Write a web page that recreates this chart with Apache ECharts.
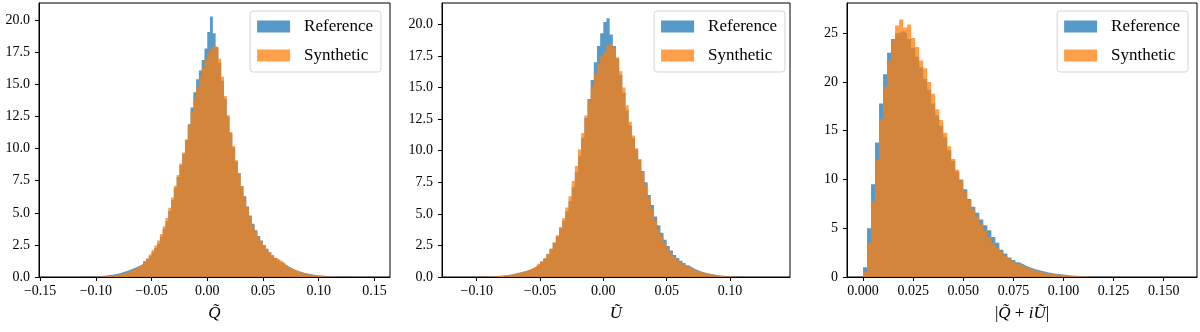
<!DOCTYPE html>
<html>
<head>
<meta charset="utf-8">
<script src="https://cdn.jsdelivr.net/npm/echarts@6/dist/echarts.min.js"></script>
<style>
  html, body { margin: 0; padding: 0; background: #fff; }
  #chart { width: 1200px; height: 332px; }
</style>
</head>
<body>
<div id="chart"></div>
<script>
// histogram bins (left edges start + i * width)
const quBinStart = -0.11
const quBinWidth = 0.0025
const pBinStart = 0
const pBinWidth = 0.002

// Q~ densities
const qRef = [0.01,0.02,0.03,0.04,0.06,0.07,0.10,0.12,0.16,0.18, 0.22,0.26,0.32,0.38,0.44,0.52,0.62,0.70,0.80,0.90,
  1.02,1.22,1.42,1.66,1.95,2.25,2.62,3.15,3.75,4.35, 5.15,6.0,6.95,7.8,8.7,9.6,10.7,11.9,13.2,14.4,
  15.4,16.1,16.9,17.8,19.1,20.3,19.0,17.9,16.7,15.3, 13.9,12.5,11.2,10.1,9.0,8.1,7.1,6.3,5.5,4.8,
  4.15,3.65,3.2,2.85,2.5,2.2,1.92,1.7,1.48,1.32, 1.15,1.0,0.85,0.72,0.62,0.52,0.44,0.38,0.32,0.27,
  0.23,0.19,0.16,0.13,0.11,0.09,0.07,0.05,0.04,0.03, 0.02,0.02,0.01,0.01,0,0]
const qSyn = [0,0.01,0.01,0.02,0.03,0.04,0.06,0.08,0.10,0.12, 0.15,0.18,0.22,0.27,0.33,0.40,0.50,0.60,0.72,0.85,
  1.0,1.2,1.45,1.75,2.1,2.45,2.85,3.35,3.95,4.6, 5.4,6.2,7.1,7.95,8.85,9.7,10.7,11.8,12.9,13.9,
  14.8,15.6,16.3,17.0,17.5,17.8,18.0,17.9,17.0,15.6, 14.1,12.6,11.3,10.2,9.1,8.1,7.1,6.2,5.4,4.7,
  4.05,3.55,3.1,2.75,2.4,2.15,1.9,1.7,1.5,1.35, 1.22,1.08,0.92,0.76,0.62,0.5,0.42,0.35,0.29,0.24,
  0.2,0.16,0.13,0.1,0.08,0.06,0.05,0.04,0.03,0.02, 0.01,0.01,0,0,0,0]

// U~ densities
const uRef = [0,0,0.01,0.01,0.01,0.02,0.03,0.04,0.05,0.07, 0.08,0.10,0.13,0.16,0.2,0.25,0.31,0.37,0.43,0.5,
  0.58,0.7,0.85,1.0,1.2,1.45,1.8,2.2,2.7,3.2, 3.85,4.45,5.2,6.0,7.1,8.3,9.6,11.0,12.6,14.1,
  15.6,17.0,18.3,19.3,20.2,20.5,19.2,18.3,17.3,16.0, 14.6,13.2,12.0,11.0,10.1,9.3,8.4,7.5,6.5,5.7,
  4.8,4.1,3.5,2.95,2.45,2.1,1.75,1.5,1.28,1.1, 0.93,0.78,0.64,0.53,0.44,0.36,0.29,0.24,0.19,0.15,
  0.12,0.09,0.07,0.05,0.03,0.02,0.01,0.01,0,0, 0,0,0,0,0,0]
const uSyn = [0,0,0,0.01,0.01,0.02,0.02,0.03,0.04,0.05, 0.07,0.09,0.11,0.14,0.18,0.23,0.29,0.36,0.44,0.52,
  0.62,0.74,0.88,1.05,1.25,1.5,1.85,2.25,2.75,3.3, 3.95,4.65,5.5,6.4,7.6,8.8,10.1,11.4,12.8,14.0,
  15.1,16.1,16.9,17.5,17.9,18.3,18.5,18.2,17.4,16.3, 15.0,13.6,12.3,11.2,10.2,9.3,8.3,7.3,6.3,5.4,
  4.5,3.8,3.2,2.7,2.25,1.9,1.6,1.35,1.15,0.98, 0.84,0.7,0.58,0.48,0.4,0.33,0.27,0.22,0.17,0.13,
  0.1,0.08,0.06,0.04,0.03,0.02,0.01,0,0,0, 0,0,0,0,0,0]

// |Q~ + iU~| densities
const pRef = [1.0,5.0,9.5,13.8,17.8,20.8,23.0,24.4,25.0,25.2, 25.0,24.4,23.5,22.6,21.5,20.3,19.2,17.8,16.6,15.5,
  14.3,13.0,11.9,10.8,10.0,9.0,8.0,7.2,6.6,5.9, 5.3,4.8,4.1,3.5,2.8,2.4,2.0,1.75,1.5,1.3,
  1.1,0.95,0.8,0.68,0.58,0.48,0.4,0.33,0.3,0.25, 0.2,0.16,0.13,0.1,0.08,0.06,0.05,0.04,0.03,0.02,
  0.02,0.01,0.01]
const pSyn = [0.5,3.5,7.8,12.0,16.2,19.5,22.2,24.3,25.8,26.4, 25.6,25.9,24.5,23.6,22.2,21.4,20.0,18.8,17.2,16.1,
  14.8,13.4,12.1,11.0,9.9,8.8,7.9,7.0,6.2,5.4, 4.8,4.1,3.5,3.0,2.6,2.2,1.9,1.6,1.35,1.15,
  0.98,0.82,0.68,0.56,0.46,0.38,0.31,0.26,0.22,0.18, 0.15,0.12,0.1,0.08,0.06,0.04,0.03,0.02,0.01,0.01,
  0,0,0]

// tick values
const qTicksX = [-0.15, -0.10, -0.05, 0, 0.05, 0.10, 0.15]
const uTicksX = [-0.10, -0.05, 0, 0.05, 0.10]
const pTicksX = [0, 0.025, 0.05, 0.075, 0.10, 0.125, 0.15]
const quTicksY = [0, 2.5, 5, 7.5, 10, 12.5, 15, 17.5, 20]
const pTicksY = [0, 5, 10, 15, 20, 25]

const seriesNames = ['Reference', 'Synthetic']
const blueFill = 'rgba(31,119,180,0.75)'
const orangeFill = 'rgba(255,127,14,0.75)'
const serif = 'Liberation Serif'

const panels = [
  { left: 39, width: 351, xMin: -0.151, xMax: 0.164, yMax: 21.35, xTicks: qTicksX, yTicks: quTicksY,
    xDigits: 2, yDigits: 1, name: '{i|Q\u0303}', ref: qRef, syn: qSyn, start: quBinStart, step: quBinWidth, legendRight: 819 },
  { left: 442, width: 348, xMin: -0.1274, xMax: 0.1474, yMax: 21.7, xTicks: uTicksX, yTicks: quTicksY,
    xDigits: 2, yDigits: 1, name: '{i|U\u0303}', ref: uRef, syn: uSyn, start: quBinStart, step: quBinWidth, legendRight: 415 },
  { left: 847, width: 350, xMin: -0.008, xMax: 0.1666, yMax: 28.1, xTicks: pTicksX, yTicks: pTicksY,
    xDigits: 3, yDigits: 0, name: '{u||}{i|Q\u0303}{u| + }{i|iU\u0303}{u||}', ref: pRef, syn: pSyn, start: pBinStart, step: pBinWidth, legendRight: 12 }
]

const toPoints = (start, step, vals) => {
  const pts = vals.map((v, i) => [start + i * step, v])
  pts.push([start + vals.length * step, 0])
  return pts
}
const fmt = (digits) => (v) => (v < -1e-9 ? '\u2212' : '') + Math.abs(v).toFixed(digits)

const option = {
  animation: false,
  grid: panels.map(p => ({
    left: p.left, top: 3, width: p.width, height: 274,
    show: true, borderColor: '#000', borderWidth: 1
  })),
  xAxis: panels.map((p, i) => ({
    gridIndex: i, type: 'value', min: p.xMin, max: p.xMax, z: 10,
    axisLine: { show: true, onZero: false, lineStyle: { color: '#000', width: 1 } },
    axisTick: { show: true, length: 4, customValues: p.xTicks, lineStyle: { color: '#000' } },
    axisLabel: { customValues: p.xTicks, formatter: fmt(p.xDigits), fontFamily: serif, fontSize: 14, color: '#000', margin: 7 },
    splitLine: { show: false },
    name: p.name, nameLocation: 'middle', nameGap: 28,
    nameTextStyle: {
      rich: {
        i: { fontFamily: serif, fontStyle: 'italic', fontSize: 17, color: '#000' },
        u: { fontFamily: serif, fontSize: 17, color: '#000' }
      }
    }
  })),
  yAxis: panels.map((p, i) => ({
    gridIndex: i, type: 'value', min: 0, max: p.yMax, z: 10,
    axisLine: { show: true, onZero: false, lineStyle: { color: '#000', width: 1 } },
    axisTick: { show: true, length: 4, customValues: p.yTicks, lineStyle: { color: '#000' } },
    axisLabel: { customValues: p.yTicks, formatter: fmt(p.yDigits), fontFamily: serif, fontSize: 14, color: '#000', margin: 9 },
    splitLine: { show: false }
  })),
  legend: panels.map(p => ({
    orient: 'vertical', right: p.legendRight, top: 11, selectedMode: false,
    icon: 'rect', itemWidth: 33, itemHeight: 12, itemGap: 12,
    padding: [7, 8, 8, 7],
    backgroundColor: '#fff', borderColor: '#d5d5d5', borderWidth: 1, borderRadius: 3,
    textStyle: { fontFamily: serif, fontSize: 17, color: '#000', lineHeight: 14, padding: [0, 0, 0, 9] },
    data: [
      { name: seriesNames[0], itemStyle: { color: blueFill } },
      { name: seriesNames[1], itemStyle: { color: orangeFill } }
    ]
  })),
  series: panels.flatMap((p, i) => [
    { vals: p.ref, color: blueFill, name: seriesNames[0] },
    { vals: p.syn, color: orangeFill, name: seriesNames[1] }
  ].map(s => ({
    type: 'line', name: s.name, xAxisIndex: i, yAxisIndex: i,
    step: 'end', symbol: 'none', showSymbol: false, silent: true,
    color: s.color,
    lineStyle: { width: 0 },
    areaStyle: { color: s.color, opacity: 1 },
    data: toPoints(p.start, p.step, s.vals)
  })))
}

const chart = echarts.init(document.getElementById('chart'))
chart.setOption(option)
</script>
</body>
</html>
